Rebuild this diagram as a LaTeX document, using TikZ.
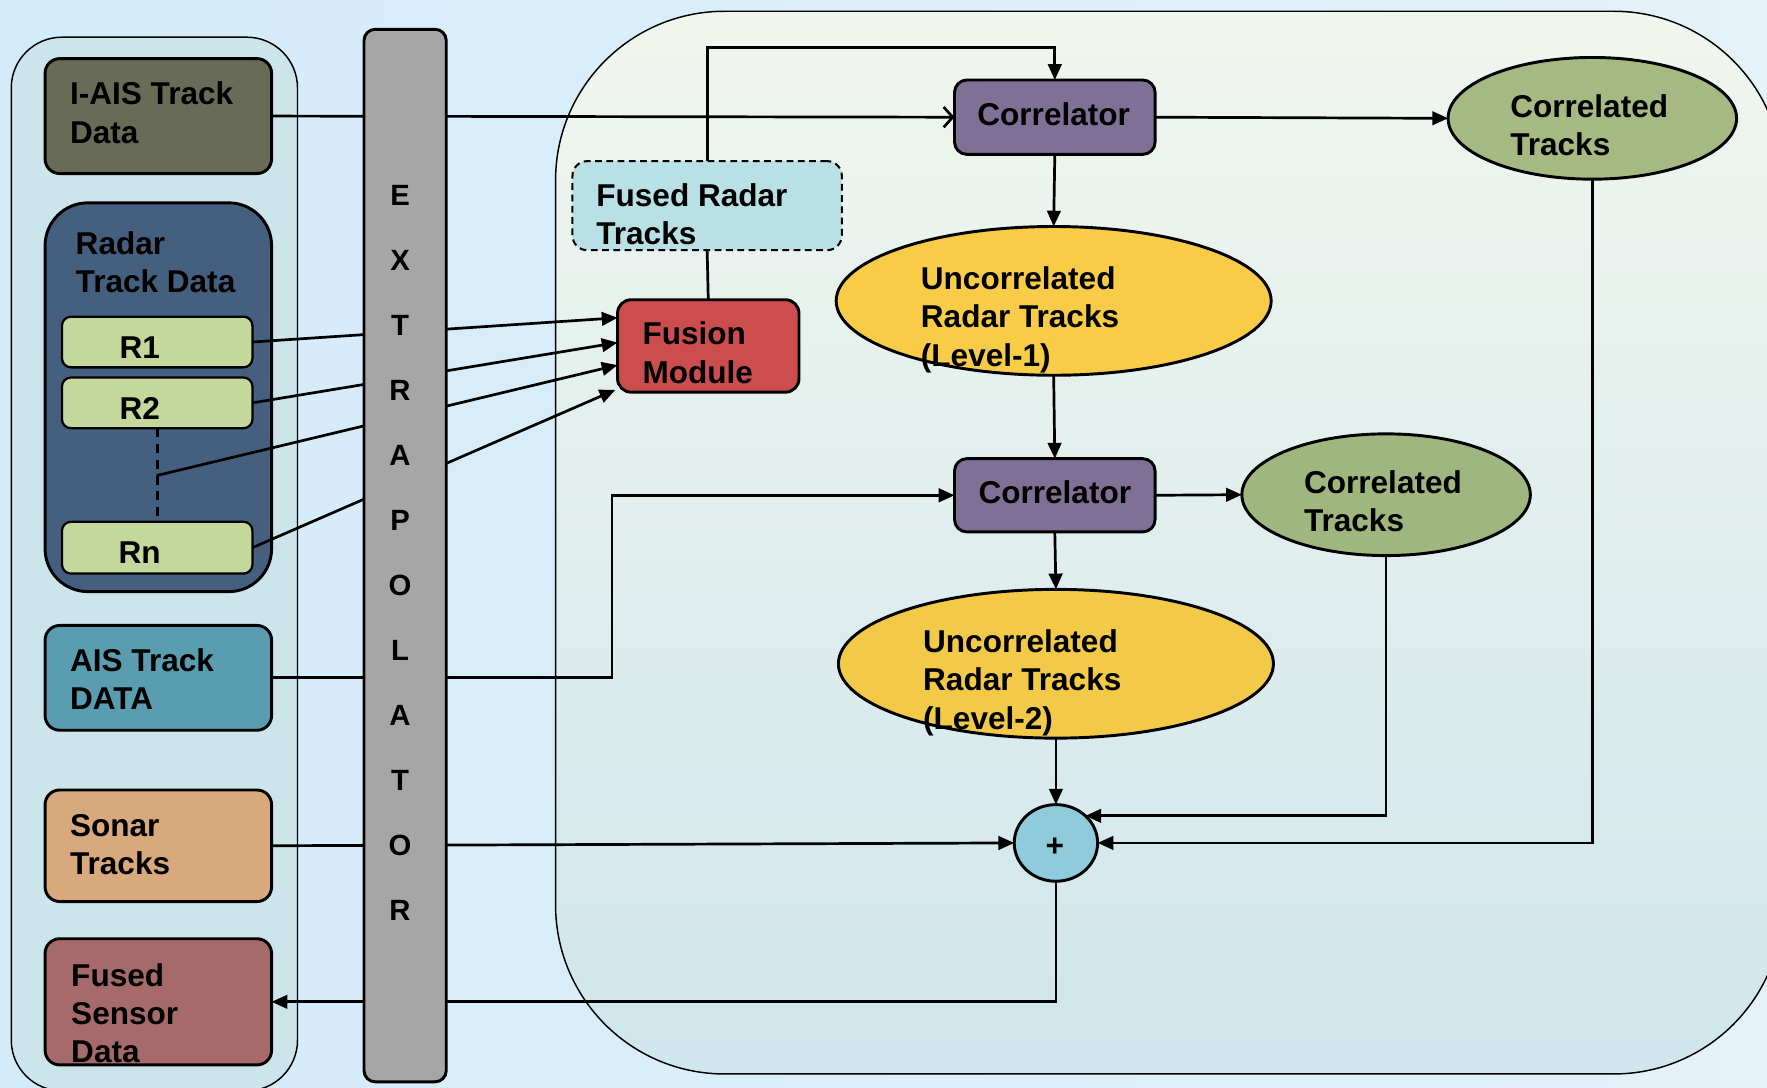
\documentclass[tikz,border=0pt]{standalone}
\usepackage{fontspec}
\setmainfont{Liberation Sans}
\usetikzlibrary{arrows.meta,shapes.geometric,calc}

\definecolor{bgleft}{HTML}{D3EBFB}
\definecolor{bgright}{HTML}{E4F2F9}
\definecolor{panelL}{HTML}{CCE5EB}
\definecolor{panelTop}{HTML}{F1F6EE}
\definecolor{panelBot}{HTML}{CFE6EC}
\definecolor{iaisC}{HTML}{686B56}
\definecolor{radarC}{HTML}{44607E}
\definecolor{rboxC}{HTML}{C5D89C}
\definecolor{aisC}{HTML}{5A9DB1}
\definecolor{sonarC}{HTML}{D8A97C}
\definecolor{fusedC}{HTML}{A66A6B}
\definecolor{barC}{HTML}{A6A6A6}
\definecolor{fradarC}{HTML}{B9E0E5}
\definecolor{fusionC}{HTML}{CB4D4E}
\definecolor{corrC}{HTML}{7F7196}
\definecolor{ctA}{HTML}{A6B983}
\definecolor{ctB}{HTML}{9FB67E}
\definecolor{ucA}{HTML}{F8CC47}
\definecolor{ucB}{HTML}{F2CA47}
\definecolor{sumC}{HTML}{90CBDB}

\begin{document}
\begin{tikzpicture}[x=1pt,y=-1pt,
  % multi-line labels are placed by the baseline of their last line
  lbl/.style={font=\fontsize{28}{34}\selectfont\bfseries, align=left, inner sep=0pt, anchor=base west},
  clbl/.style={font=\fontsize{28}{34}\selectfont\bfseries, inner sep=0pt, anchor=base},
  box/.style={draw=black, line width=2.6pt, rounded corners=13pt, inner sep=0pt, outer sep=0pt},
  oval/.style={draw=black, line width=2.6pt, ellipse, inner sep=0pt, outer sep=0pt},
  conn/.style={draw=black, line width=2.4pt},
  arr/.style={conn, -{Triangle[length=14pt,width=12pt]}},
  panel/.style={draw=black, line width=1.3pt},
]
\useasboundingbox (0,0) rectangle (1568,965);

% background
\fill[left color=bgleft, right color=bgright] (0,0) rectangle (1568,965);

% input panel and processing panel
\path[panel, fill=panelL, rounded corners=45pt] (10,33) rectangle (264,968);
\path[panel, top color=panelTop, bottom color=panelBot, rounded corners=150pt] (493,10) rectangle (1582,953);

% sensor inputs
\node[box, fill=iaisC, minimum width=201pt, minimum height=102pt] (iais) at (140.5,103) {};
\node[lbl] (iaisT) at (62,127) {I-AIS Track\\Data};

\node[box, fill=radarC, rounded corners=38pt, minimum width=201pt, minimum height=345pt] (radar) at (140.5,352.5) {};
\node[lbl] (radarT) at (67,260) {Radar\\Track Data};

\node[box, fill=rboxC, line width=2pt, rounded corners=8pt, minimum width=169pt, minimum height=45pt] (r1) at (139.5,303.5) {};
\node[clbl] (r1T) at (124,318) {R1};
\node[box, fill=rboxC, line width=2pt, rounded corners=8pt, minimum width=169pt, minimum height=45pt] (r2) at (139.5,357.5) {};
\node[clbl] (r2T) at (124,372) {R2};
\node[box, fill=rboxC, line width=2pt, rounded corners=8pt, minimum width=169pt, minimum height=46pt] (rn) at (139.5,486) {};
\node[clbl] (rnT) at (124,500) {Rn};
\draw[conn, line width=2.6pt, dash pattern=on 8pt off 6pt] (r2.south) -- (rn.north);
\coordinate (rmid) at (139,422);

\node[box, fill=aisC, minimum width=201pt, minimum height=93pt] (ais) at (140.5,601.5) {};
\node[lbl] (aisT) at (62,630) {AIS Track\\DATA};

\node[box, fill=sonarC, minimum width=201pt, minimum height=99pt] (sonar) at (140.5,750.5) {};
\node[lbl] (sonarT) at (62,776) {Sonar\\Tracks};

\node[box, fill=fusedC, minimum width=201pt, minimum height=112pt] (fused) at (140.5,889) {};
\node[lbl] (fusedT) at (63,943) {Fused\\Sensor\\Data};

% processing blocks
\node[box, fill=fradarC, line width=1.8pt, dash pattern=on 6pt off 4pt, minimum width=239pt, minimum height=79pt] (fradar) at (627.5,182.5) {};
\node[lbl] (fradarT) at (529,217) {Fused Radar\\Tracks};

\node[box, fill=fusionC, rounded corners=12pt, minimum width=161pt, minimum height=82pt] (fusion) at (628.5,307) {};
\node[lbl] (fusionT) at (570,340) {Fusion\\Module};

\node[box, fill=corrC, rounded corners=11pt, minimum width=178pt, minimum height=66pt] (corr1) at (936,104) {};
\node[clbl] (corr1T) at (935,111) {Correlator};
\node[oval, fill=ctA, minimum width=256pt, minimum height=108pt] (ct1) at (1413,105) {};
\node[lbl] (ct1T) at (1340,138) {Correlated\\Tracks};

\node[oval, fill=ucA, minimum width=386pt, minimum height=132pt] (uc1) at (935,267) {};
\node[lbl] (uc1T) at (817,325) {Uncorrelated\\Radar Tracks\\(Level-1)};

\node[box, fill=corrC, rounded corners=11pt, minimum width=178pt, minimum height=65pt] (corr2) at (936,439.5) {};
\node[clbl] (corr2T) at (936,447) {Correlator};
\node[oval, fill=ctB, minimum width=256pt, minimum height=108pt] (ct2) at (1230,439) {};
\node[lbl] (ct2T) at (1157,472) {Correlated\\Tracks};

\node[oval, fill=ucB, minimum width=386pt, minimum height=132pt] (uc2) at (937,589) {};
\node[lbl] (uc2T) at (819,647) {Uncorrelated\\Radar Tracks\\(Level-2)};

\node[oval, fill=sumC, minimum width=74pt, minimum height=68pt] (sum) at (937,748) {};
\node[clbl] (sumT) at (936,760) {+};

% helper points on the fusion module and routing levels
\coordinate (f1) at (548,282);
\coordinate (f2) at (548,304);
\coordinate (f3) at (548,324);
\coordinate (f4) at (546,346);
\coordinate (topk) at (0,42);
\coordinate (aisk) at (543,0);

% connectors
\draw[conn, -{Straight Barb[length=8pt,width=18pt]}] (iais.east) -- (corr1.west);
\draw[arr] (r1.east) -- (f1);
\draw[arr] (r2.east) -- (f2);
\draw[arr] (rmid) -- (f3);
\draw[arr] (rn.east) -- (f4);
\draw[conn] (fusion.north) -- (fradar.south);
\draw[arr] (fradar.north) -- (fradar.north |- topk) -| (corr1.north);
\draw[arr] (corr1.south) -- (uc1.north);
\draw[arr] (corr1.east) -- (ct1.west);
\draw[arr] (uc1.south) -- (corr2.north);
\draw[arr] (corr2.east) -- (ct2.west);
\draw[arr] (corr2.south) -- (uc2.north);
\draw[arr] (uc2.south) -- (sum.north);
\draw[arr] (ais.east) -- (ais.east -| aisk) |- (corr2.west);
\draw[arr] (sonar.east) -- (sum.west);
\draw[arr] (ct2.south) |- (sum.north east);
\draw[arr] (ct1.south) |- (sum.east);
\draw[arr] (sum.south) |- (fused.east);

% extrapolator bar over the through-going lines
\node[draw=black, line width=2.6pt, fill=barC, rounded corners=10pt, minimum width=73pt, minimum height=934pt, inner sep=0pt] (bar) at (359.5,493) {};
\foreach \ch [count=\i] in {E,X,T,R,A,P,O,L,A,T,O,R}
  \node[clbl, font=\fontsize{26}{30}\selectfont\bfseries] (ex\i) at (355,{172+57.7*(\i-1)+10}) {\ch};
\end{tikzpicture}
\end{document}
